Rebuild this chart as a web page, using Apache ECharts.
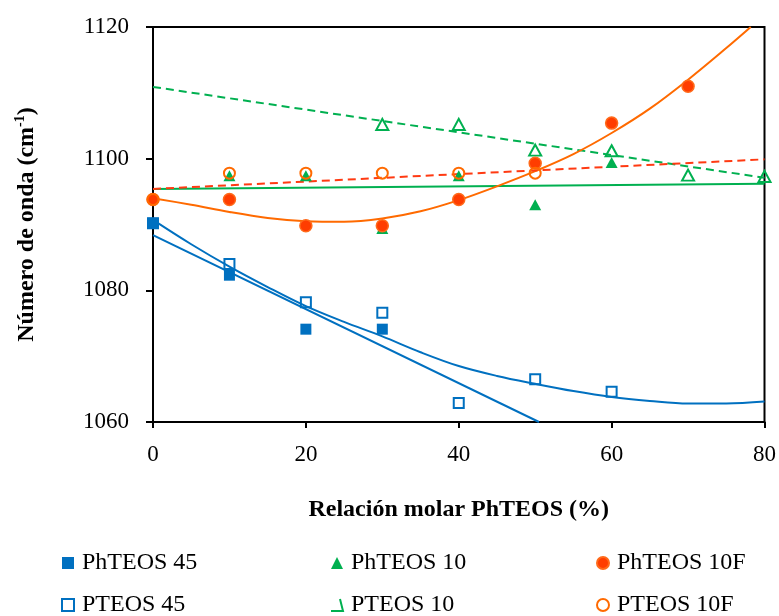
<!DOCTYPE html>
<html>
<head>
<meta charset="utf-8">
<script src="https://cdn.jsdelivr.net/npm/echarts@6/dist/echarts.min.js"></script>
<style>
html,body{margin:0;padding:0;background:#fff;}
#chart{width:779px;height:616px;}
</style>
</head>
<body>
<div id="chart"></div>
<script>
// ---- Data ----
const seriesNames = ['PhTEOS 45', 'PTEOS 45', 'PhTEOS 10', 'PTEOS 10', 'PhTEOS 10F', 'PTEOS 10F'];

const phteos45  = [[0, 1090.2], [10, 1082.3], [20, 1074.1], [30, 1074.1]];
const pteos45   = [[0, 1090.2], [10, 1084.0], [20, 1078.2], [30, 1076.6], [40, 1062.9], [50, 1066.5], [60, 1064.6]];
const phteos10  = [[10, 1097.4], [20, 1097.4], [30, 1089.4], [40, 1097.4], [50, 1093.0], [60, 1099.4]];
const pteos10   = [[30, 1105.2], [40, 1105.2], [50, 1101.3], [60, 1101.2], [70, 1097.5], [80, 1097.3]];
const phteos10F = [[0, 1093.8], [10, 1093.8], [20, 1089.8], [30, 1089.8], [40, 1093.8], [50, 1099.3], [60, 1105.4], [70, 1111.0]];
const pteos10F  = [[0, 1093.8], [10, 1097.8], [20, 1097.8], [30, 1097.8], [40, 1097.8], [50, 1097.8]];

// trend lines
const trendPhteos45  = [[0, 1088.4], [50.5, 1060.0]];
const trendPteos45   = [[0, 1090.7], [5, 1087.0], [10, 1083.6], [15, 1080.5], [20, 1077.6], [25, 1075.2], [30, 1073.0],
                        [35, 1070.6], [40, 1068.5], [45, 1067.0], [50, 1065.8], [55, 1064.7], [60, 1063.8], [65, 1063.2],
                        [70, 1062.8], [75, 1062.8], [80, 1063.1]];
const trendPhteos10  = [[0, 1095.4], [80, 1096.2]];
const trendPteos10   = [[0, 1110.9], [80, 1097.1]];
const trendPhteos10F = [[0, 1094.0], [5, 1093.0], [10, 1091.9], [15, 1091.0], [20, 1090.5], [25, 1090.4], [30, 1090.9],
                        [35, 1092.0], [40, 1093.7], [45, 1095.8], [50, 1098.1], [55, 1100.7], [60, 1103.9], [65, 1107.6],
                        [70, 1112.0], [75, 1116.8], [78.2, 1120.0]];
const trendPteos10F  = [[0, 1095.4], [80, 1099.9]];

const xTicks = {min: 0, max: 80, interval: 20};
const yTicks = {min: 1060, max: 1120, interval: 20};

// ---- Styles ----
const BLUE = '#0070C0', GREEN = '#00B050', ORANGE = '#FF6A00', RED = '#FF3A12', FONT = '"Liberation Serif", "Times New Roman", serif';

function trend(data, color, dashed, smooth) {
  return {
    type: 'line', data: data, showSymbol: false, symbol: 'none', smooth: smooth ? 0.35 : false,
    silent: true, clip: true, z: 1,
    lineStyle: {color: color, width: 2, type: dashed ? [8, 5] : 'solid'}
  };
}

const chart = echarts.init(document.getElementById('chart'), null, {renderer: 'canvas'});
function legendAt(left, items) {
  return {
    left: left, top: 551, height: 80, orient: 'vertical', padding: 0, itemGap: 18, itemWidth: 12, itemHeight: 12,
    textStyle: {fontFamily: FONT, fontSize: 24, lineHeight: 24, color: '#000', padding: [0, 0, 0, 3]},
    selectedMode: false, data: items
  };
}
chart.setOption({
  animation: false,
  backgroundColor: '#fff',
  grid: {left: 153, right: 12, top: 27, bottom: 194, show: true, borderColor: '#000', borderWidth: 2, backgroundColor: 'transparent'},
  xAxis: {
    type: 'value', min: xTicks.min, max: xTicks.max, interval: xTicks.interval,
    name: 'Relación molar PhTEOS (%)', nameLocation: 'middle', nameGap: 76,
    nameTextStyle: {fontFamily: FONT, fontSize: 24, fontWeight: 'bold', color: '#000'},
    axisLine: {lineStyle: {color: '#000', width: 2}},
    axisTick: {inside: false, length: 6, lineStyle: {color: '#000', width: 2}},
    axisLabel: {fontFamily: FONT, fontSize: 23, color: '#000', margin: 21, formatter: v => String(v)},
    splitLine: {show: false}
  },
  yAxis: {
    type: 'value', min: yTicks.min, max: yTicks.max, interval: yTicks.interval,
    name: '{t|Número de onda (cm}{s|-1}{t|)}', nameLocation: 'middle', nameGap: 112, nameRotate: 90,
    nameTextStyle: {
      color: '#000',
      rich: {
        t: {fontFamily: FONT, fontSize: 24, fontWeight: 'bold', color: '#000', lineHeight: 28},
        s: {fontFamily: FONT, fontSize: 14, fontWeight: 'bold', color: '#000', verticalAlign: 'top', lineHeight: 16}
      }
    },
    axisLine: {lineStyle: {color: '#000', width: 2}},
    axisTick: {inside: false, length: 7, lineStyle: {color: '#000', width: 2}},
    axisLabel: {fontFamily: FONT, fontSize: 23, color: '#000', margin: 24, formatter: v => String(v)},
    splitLine: {show: false}
  },
  legend: [
    legendAt(61, [{name: seriesNames[0], icon: 'rect'}, {name: seriesNames[1], icon: 'rect'}]),
    legendAt(330, [{name: seriesNames[2], icon: 'triangle'}, {name: seriesNames[3], icon: 'path://M9,0 L12,12 L0,12'}]),
    legendAt(596, [{name: seriesNames[4], icon: 'circle'}, {name: seriesNames[5], icon: 'circle'}])
  ],
  series: [
    trend(trendPhteos45, BLUE, false, false),
    trend(trendPteos45, BLUE, false, true),
    trend(trendPhteos10, GREEN, false, false),
    trend(trendPteos10, GREEN, true, false),
    trend(trendPhteos10F, ORANGE, false, true),
    trend(trendPteos10F, RED, true, false),
    {name: seriesNames[0], type: 'scatter', data: phteos45, symbol: 'rect', symbolSize: 11, z: 3,
     itemStyle: {color: BLUE, opacity: 1}},
    {name: seriesNames[1], type: 'scatter', data: pteos45, symbol: 'rect', symbolSize: 10, z: 3,
     itemStyle: {color: 'rgba(255,255,255,0)', borderColor: BLUE, borderWidth: 2, opacity: 1}},
    {name: seriesNames[2], type: 'scatter', data: phteos10, symbol: 'triangle', symbolSize: [12, 11], z: 3,
     itemStyle: {color: GREEN, opacity: 1}},
    {name: seriesNames[3], type: 'scatter', data: pteos10, symbol: 'triangle', symbolSize: [12, 11], z: 3,
     itemStyle: {color: 'rgba(255,255,255,0)', borderColor: GREEN, borderWidth: 2, opacity: 1}},
    {name: seriesNames[4], type: 'scatter', data: phteos10F, symbol: 'circle', symbolSize: 12, z: 3,
     itemStyle: {color: '#FF3D00', borderColor: '#FF6A1A', borderWidth: 1.5, opacity: 1}},
    {name: seriesNames[5], type: 'scatter', data: pteos10F, symbol: 'circle', symbolSize: 11, z: 3,
     itemStyle: {color: 'rgba(255,255,255,0)', borderColor: ORANGE, borderWidth: 2, opacity: 1}}
  ]
});
</script>
</body>
</html>
